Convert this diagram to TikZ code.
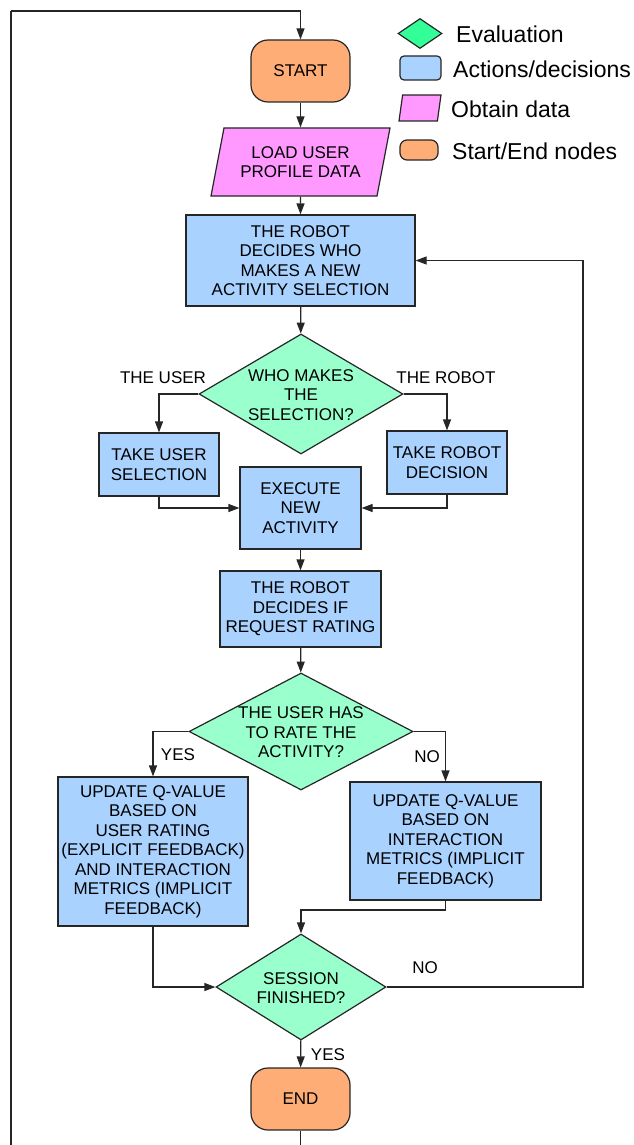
\documentclass[tikz,border=0pt]{standalone}
\usepackage{fontspec}
\setmainfont{Liberation Sans}
\usetikzlibrary{shapes.geometric,arrows.meta}
\definecolor{cOrange}{HTML}{FFAD77}
\definecolor{cPink}{HTML}{FF99FF}
\definecolor{cBlue}{HTML}{A9D2FF}
\definecolor{cGreen}{HTML}{99FFCC}
\definecolor{cLegGreen}{HTML}{33FF99}
\tikzset{
  base/.style={draw=black!85, line width=1.2pt, inner sep=0pt, align=center,
    font=\fontsize{17}{19.5}\selectfont},
  termbox/.style={base, fill=cOrange, rectangle, rounded corners=17pt},
  databox/.style={base, fill=cPink, trapezium, trapezium left angle=67.6,
    trapezium right angle=112.4, trapezium stretches body},
  actbox/.style={base, fill=cBlue, rectangle},
  evalbox/.style={draw=black!85, line width=1.2pt, fill=cGreen, diamond, inner sep=0pt},
  evaltext/.style={align=center, inner sep=0pt, font=\fontsize{17}{19.5}\selectfont},
  lbl/.style={inner sep=0pt, font=\fontsize{17}{19.5}\selectfont},
  legtext/.style={inner sep=0pt, anchor=west, font=\fontsize{23}{25}\selectfont},
  arr/.style={draw=black!85, line width=1.2pt, -{Triangle[length=11pt,width=8pt]}},
  ln/.style={draw=black!85, line width=1.2pt},
}
\begin{document}
\begin{tikzpicture}[x=1pt,y=-1pt]
\useasboundingbox (0,0) rectangle (633,1145);
% main nodes
\node[termbox, minimum width=99pt, minimum height=62pt] (start) at (300.5,71) {START};
\node[databox, minimum width=179pt, minimum height=68pt] (load) at (300.5,162) {LOAD USER\\PROFILE DATA};
\node[actbox, minimum width=229pt, minimum height=91pt] (decide) at (300.5,260.5) {THE ROBOT\\DECIDES WHO\\MAKES A NEW\\ACTIVITY SELECTION};
\node[evalbox, minimum width=204pt, minimum height=120pt] (who) at (301,394) {};
\node[evaltext] (whot) at ([yshift=-1pt]who.center) {WHO MAKES\\THE\\SELECTION?};
\node[actbox, minimum width=120pt, minimum height=63pt] (takeuser) at (159,464.5) {TAKE USER\\SELECTION};
\node[actbox, minimum width=120pt, minimum height=63pt] (takerobot) at (447,462.5) {TAKE ROBOT\\DECISION};
\node[actbox, minimum width=121pt, minimum height=82pt] (exec) at (300.5,508) {EXECUTE\\NEW\\ACTIVITY};
\node[actbox, minimum width=161pt, minimum height=76pt] (rateq) at (300.5,609) {THE ROBOT\\DECIDES IF\\REQUEST RATING};
\node[evalbox, minimum width=224pt, minimum height=117pt] (rate) at (301,731.5) {};
\node[evaltext] (ratet) at ([yshift=-1pt]rate.center) {THE USER HAS\\TO RATE THE\\ACTIVITY?};
\node[actbox, minimum width=190pt, minimum height=149pt] (updl) at (153,851.5) {UPDATE Q-VALUE\\BASED ON\\USER RATING\\(EXPLICIT FEEDBACK)\\AND INTERACTION\\METRICS (IMPLICIT\\FEEDBACK)};
\node[actbox, minimum width=191pt, minimum height=118pt] (updr) at (445.5,841) {UPDATE Q-VALUE\\BASED ON\\INTERACTION\\METRICS (IMPLICIT\\FEEDBACK)};
\node[evalbox, minimum width=170pt, minimum height=106pt] (sess) at (301,987) {};
\node[evaltext] (sesst) at ([yshift=-1pt]sess.center) {SESSION\\FINISHED?};
\node[termbox, minimum width=99pt, minimum height=62pt] (end) at (300.5,1099) {END};
% coordinates
\coordinate (loopbot) at (11,1145);
\coordinate (looptop) at (11,11);
\coordinate (endbot) at (300.5,1145);
\coordinate (mid) at (301,910);
\coordinate (backr) at (583,987);
% connectors
\draw[ln] (loopbot) -- (looptop);
\draw[arr] (looptop) -| (start.north);
\draw[arr] (start) -- (load);
\draw[arr] (load) -- (decide);
\draw[arr] (decide) -- (who);
\draw[arr] (who.west) -| (takeuser.north);
\draw[arr] (who.east) -| (takerobot.north);
\draw[arr] (takeuser.south) |- (exec.west);
\draw[arr] (takerobot.south) |- (exec.east);
\draw[arr] (exec) -- (rateq);
\draw[arr] (rateq) -- (rate);
\draw[arr] (rate.west) -| (updl.north);
\draw[arr] (rate.east) -| (updr.north);
\draw[arr] (updl.south) |- (sess.west);
\draw[arr] (updr.south) |- (mid) -- (sess.north);
\draw[arr] (sess.east) -- (backr) |- (decide.east);
\draw[arr] (sess) -- (end);
\draw[ln] (end.south) -- (endbot);
% labels
\node[lbl] (luser) at (163,378) {THE USER};
\node[lbl] (lrobot) at (446,378) {THE ROBOT};
\node[lbl] (lyes1) at (178,755) {YES};
\node[lbl] (lno1) at (427,757) {NO};
\node[lbl] (lno2) at (425,968) {NO};
\node[lbl] (lyes2) at (328,1055) {YES};
% legend
\node[draw=black!85, line width=1.2pt, fill=cLegGreen, diamond, inner sep=0pt, minimum width=44pt, minimum height=30pt] (legeval) at (420,33.5) {};
\node[legtext] (legevalt) at (456,34) {Evaluation};
\node[draw=black!85, line width=1.2pt, fill=cBlue, rectangle, rounded corners=4pt, minimum width=41pt, minimum height=24pt, inner sep=0pt] (legact) at (420.5,68) {};
\node[legtext] (legactt) at (453,69) {Actions/decisions};
\node[draw=black!85, line width=1.2pt, fill=cPink, trapezium, trapezium left angle=63.4, trapezium right angle=116.6, trapezium stretches body, minimum width=42pt, minimum height=26pt, inner sep=0pt] (legdata) at (420,108) {\phantom{i}};
\node[legtext] (legdatat) at (451,109) {Obtain data};
\node[draw=black!85, line width=1.2pt, fill=cOrange, rectangle, rounded corners=7pt, minimum width=38pt, minimum height=20pt, inner sep=0pt] (legterm) at (419,150) {};
\node[legtext] (legtermt) at (452,151) {Start/End nodes};
\end{tikzpicture}
\end{document}
